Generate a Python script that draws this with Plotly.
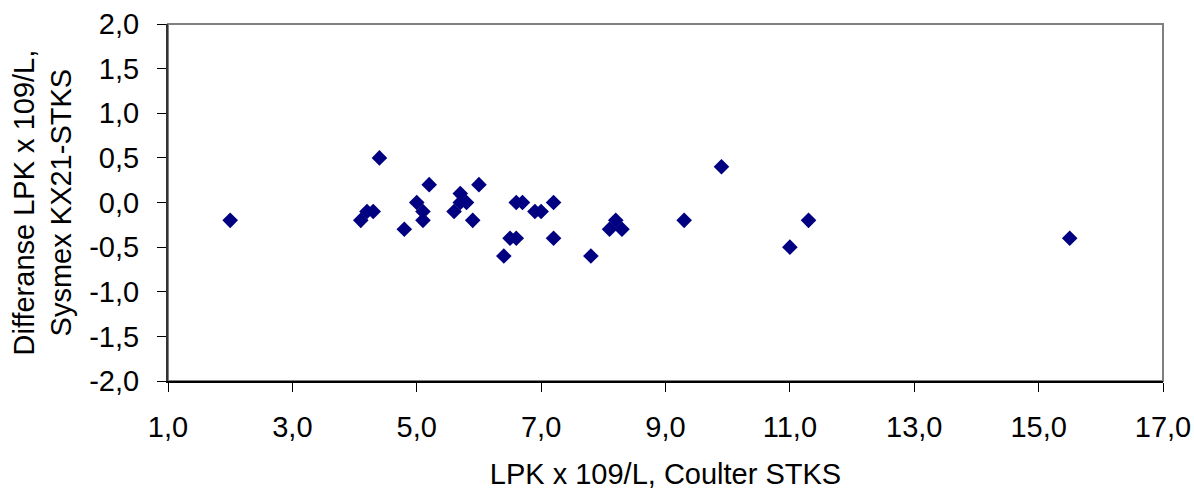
import plotly.graph_objects as go

x_coulter = [2.0, 4.1, 4.2, 4.3, 4.4, 4.8, 5.0, 5.1, 5.1, 5.2, 5.6, 5.7, 5.7, 5.8,
             5.9, 6.0, 6.4, 6.5, 6.6, 6.6, 6.7, 6.9, 7.0, 7.2, 7.2, 7.8, 8.1, 8.2,
             8.3, 9.3, 9.9, 11.0, 11.3, 15.5]
y_diff = [-0.2, -0.2, -0.1, -0.1, 0.5, -0.3, 0.0, -0.1, -0.2, 0.2, -0.1, 0.1, 0.0, 0.0,
          -0.2, 0.2, -0.6, -0.4, -0.4, 0.0, 0.0, -0.1, -0.1, 0.0, -0.4, -0.6, -0.3, -0.2,
          -0.3, -0.2, 0.4, -0.5, -0.2, -0.4]

x_ticks = [1.0, 3.0, 5.0, 7.0, 9.0, 11.0, 13.0, 15.0, 17.0]
y_ticks = [-2.0, -1.5, -1.0, -0.5, 0.0, 0.5, 1.0, 1.5, 2.0]

x_title = "LPK x 109/L, Coulter STKS"
y_title = "Differanse LPK x 109/L,<br>Sysmex KX21-STKS"


def fmt(v):
    return f"{v:.1f}".replace(".", ",")


font = "Liberation Sans, Arial, sans-serif"
FS = 29

fig = go.Figure(go.Scatter(
    x=x_coulter, y=y_diff, mode="markers",
    marker=dict(symbol="diamond", size=12, color="#000080",
                line=dict(width=0)),
))

fig.update_layout(
    width=1194, height=490,
    margin=dict(l=168, r=31, t=24, b=109, autoexpand=False),
    paper_bgcolor="white", plot_bgcolor="white",
    showlegend=False,
    font=dict(family=font, size=FS, color="black"),
    shapes=[dict(type="rect", xref="paper", yref="paper", x0=0, y0=0, x1=1, y1=1,
                 line=dict(color="#808080", width=2), layer="below")],
    annotations=[dict(text=y_title, textangle=-90, xref="paper", yref="paper",
                      x=0, y=0.5, xanchor="center", yanchor="middle", xshift=-126,
                      showarrow=False, font=dict(size=FS, family=font, color="black"))],
)
fig.update_xaxes(
    range=[1, 17], tickvals=x_ticks, ticktext=[fmt(v) for v in x_ticks],
    showgrid=False, zeroline=False, automargin=False,
    showline=True, linecolor="black", linewidth=2,
    ticks="outside", ticklen=9, tickcolor="black", tickwidth=1,
    tickfont=dict(size=FS), ticklabelstandoff=10,
    title=dict(text=x_title, font=dict(size=FS), standoff=29),
)
fig.update_yaxes(
    range=[-2, 2], tickvals=y_ticks, ticktext=[fmt(v) for v in y_ticks],
    showgrid=False, zeroline=False, automargin=False,
    showline=True, linecolor="#333333", linewidth=2,
    ticks="outside", ticklen=9, tickcolor="black", tickwidth=1,
    tickfont=dict(size=FS), ticklabelstandoff=12,
)

fig.write_html(
    "out.html",
    config={"displayModeBar": False},
    post_script="document.body.style.margin='0';document.body.style.overflow='hidden';",
)
